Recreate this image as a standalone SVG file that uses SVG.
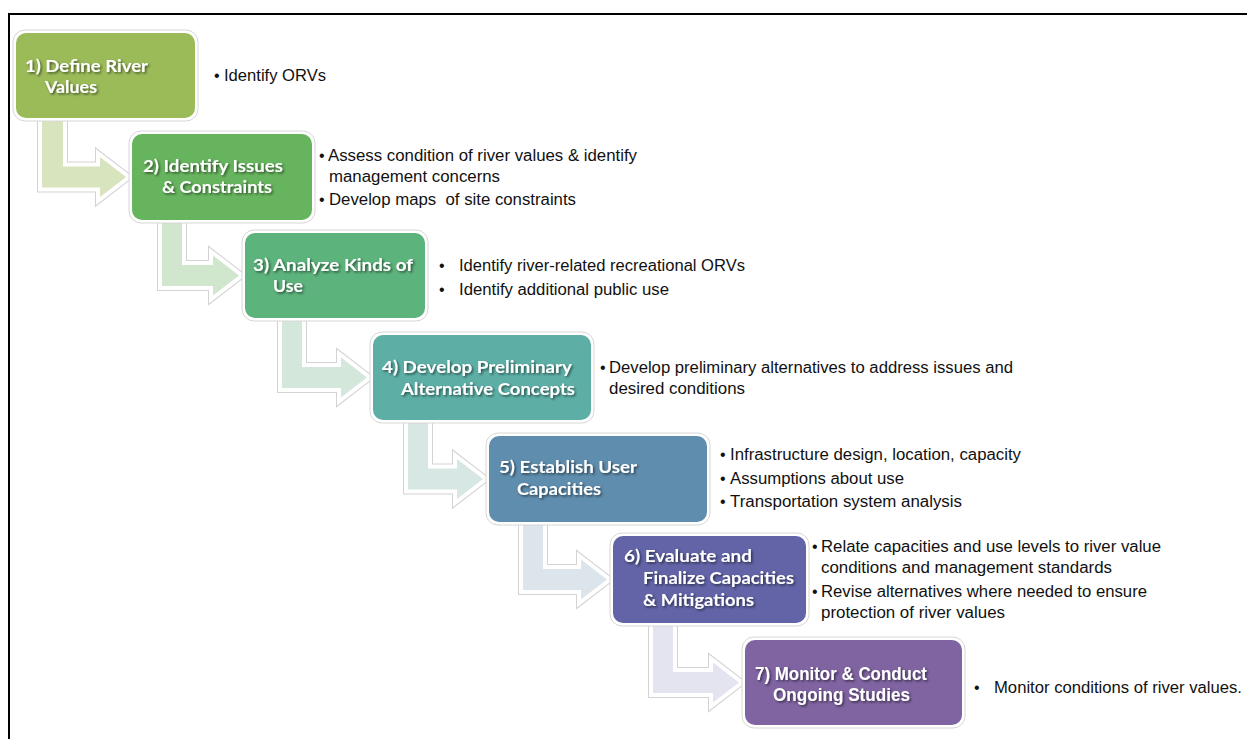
<svg xmlns="http://www.w3.org/2000/svg" xmlns:xlink="http://www.w3.org/1999/xlink" width="1247" height="739" viewBox="0 0 1247 739">
  <defs>
    <filter id="txtShadow" x="-10%" y="-30%" width="130%" height="170%">
      <feDropShadow dx="1.5" dy="1.5" stdDeviation="1" flood-color="#000" flood-opacity="0.55"/>
    </filter>
    <!-- bent arrow outlines: down from one step, then right into the next -->
    <path id="c1" d="M42 121 H63 V166.5 H100 V157 L126 177 L100 197 V187.5 H42 Z"/>
    <path id="c2" d="M162 223 H182 V265 H213 V255.5 L239 275.5 L213 295.5 V286 H162 Z"/>
    <path id="c3" d="M282 321 H302 V367 H341 V357.5 L367 377.5 L341 397.5 V388 H282 Z"/>
    <path id="c4" d="M408 423 H428 V468.5 H457 V459 L483 479 L457 499 V489.5 H408 Z"/>
    <path id="c5" d="M523 525 H543 V569 H581 V559.5 L607 579.5 L581 599.5 V590 H523 Z"/>
    <path id="c6" d="M653 626 H673 V672 H713 V662.5 L739 682.5 L713 702.5 V693 H653 Z"/>
    <style>
      .frame { fill: none; stroke: #000; stroke-width: 2; }
      .halo { fill: #fff; stroke: #d6d6d6; stroke-width: 1; }
      .lbl { font-family: Lato, "Open Sans", sans-serif; font-weight: bold; font-size: 17px; fill: #fff; filter: url(#txtShadow); }
      .lbl7 { font-family: "Liberation Sans", Arial, sans-serif; font-weight: bold; font-size: 19px; fill: #fff; filter: url(#txtShadow); }
      .note { font-family: "Liberation Sans", Arial, sans-serif; font-size: 16px; fill: #111; }
      .arrEdge { fill: none; stroke: #d3d3d3; stroke-width: 10; stroke-linejoin: miter; }
      .arrBody { stroke: #fff; stroke-width: 8; paint-order: stroke; stroke-linejoin: miter; }
    </style>
  </defs>

  <rect width="1247" height="739" fill="#fff"/>
  <path class="frame" d="M9 739 V14 H1247"/>

  <g id="connectors">
    <use xlink:href="#c1" class="arrEdge"/>
    <use xlink:href="#c1" class="arrBody" fill="#D7E4BD"/>
    <use xlink:href="#c2" class="arrEdge"/>
    <use xlink:href="#c2" class="arrBody" fill="#D0E7CD"/>
    <use xlink:href="#c3" class="arrEdge"/>
    <use xlink:href="#c3" class="arrBody" fill="#D3E8DA"/>
    <use xlink:href="#c4" class="arrEdge"/>
    <use xlink:href="#c4" class="arrBody" fill="#D6E7E4"/>
    <use xlink:href="#c5" class="arrEdge"/>
    <use xlink:href="#c5" class="arrBody" fill="#DCE5EB"/>
    <use xlink:href="#c6" class="arrEdge"/>
    <use xlink:href="#c6" class="arrBody" fill="#E3E4EF"/>
  </g>

  <!-- step 1 -->
  <g id="step1">
    <rect class="halo" x="13" y="30" width="185" height="91" rx="12"/>
    <rect x="16" y="33" width="179" height="85" rx="10" fill="#9BBB59"/>
    <text class="lbl" x="25" y="72" textLength="123" lengthAdjust="spacingAndGlyphs">1) Define River</text>
    <text class="lbl" x="45" y="93" textLength="52" lengthAdjust="spacingAndGlyphs">Values</text>
    <text class="note" x="214" y="81">•</text>
    <text class="note" x="224" y="81" textLength="102" lengthAdjust="spacingAndGlyphs">Identify ORVs</text>
  </g>

  <!-- step 2 -->
  <g id="step2">
    <rect class="halo" x="129" y="131" width="186" height="92" rx="12"/>
    <rect x="132" y="134" width="180" height="86" rx="10" fill="#67B45E"/>
    <text class="lbl" x="143" y="172" textLength="140" lengthAdjust="spacingAndGlyphs">2) Identify Issues</text>
    <text class="lbl" x="162" y="193" textLength="110" lengthAdjust="spacingAndGlyphs">&amp; Constraints</text>
    <text class="note" x="319" y="161">•</text>
    <text class="note" x="328" y="161" textLength="309" lengthAdjust="spacingAndGlyphs">Assess condition of river values &amp; identify</text>
    <text class="note" x="329" y="182" textLength="171" lengthAdjust="spacingAndGlyphs">management concerns</text>
    <text class="note" x="319" y="205">•</text>
    <text class="note" x="329" y="205" textLength="247" lengthAdjust="spacingAndGlyphs" xml:space="preserve">Develop maps  of site constraints</text>
  </g>

  <!-- step 3 -->
  <g id="step3">
    <rect class="halo" x="242" y="230" width="186" height="91" rx="12"/>
    <rect x="245" y="233" width="180" height="85" rx="10" fill="#5DB37C"/>
    <text class="lbl" x="253" y="271" textLength="160" lengthAdjust="spacingAndGlyphs">3) Analyze Kinds of</text>
    <text class="lbl" x="273" y="292" textLength="30" lengthAdjust="spacingAndGlyphs">Use</text>
    <text class="note" x="439" y="271">•</text>
    <text class="note" x="459" y="271" textLength="286" lengthAdjust="spacingAndGlyphs">Identify river-related recreational ORVs</text>
    <text class="note" x="439" y="295">•</text>
    <text class="note" x="459" y="295" textLength="210" lengthAdjust="spacingAndGlyphs">Identify additional public use</text>
  </g>

  <!-- step 4 -->
  <g id="step4">
    <rect class="halo" x="370" y="332" width="224" height="91" rx="12"/>
    <rect x="373" y="335" width="218" height="85" rx="10" fill="#5DAFA6"/>
    <text class="lbl" x="382" y="373" textLength="190" lengthAdjust="spacingAndGlyphs">4) Develop Preliminary</text>
    <text class="lbl" x="401" y="395" textLength="174" lengthAdjust="spacingAndGlyphs">Alternative Concepts</text>
    <text class="note" x="600" y="373">•</text>
    <text class="note" x="609" y="373" textLength="404" lengthAdjust="spacingAndGlyphs">Develop preliminary alternatives to address issues and</text>
    <text class="note" x="609" y="394" textLength="136" lengthAdjust="spacingAndGlyphs">desired conditions</text>
  </g>

  <!-- step 5 -->
  <g id="step5">
    <rect class="halo" x="486" y="433" width="224" height="92" rx="12"/>
    <rect x="489" y="436" width="218" height="86" rx="10" fill="#5F8DAD"/>
    <text class="lbl" x="499" y="473" textLength="138" lengthAdjust="spacingAndGlyphs">5) Establish User</text>
    <text class="lbl" x="517" y="495" textLength="84" lengthAdjust="spacingAndGlyphs">Capacities</text>
    <text class="note" x="720" y="460">•</text>
    <text class="note" x="730" y="460" textLength="291" lengthAdjust="spacingAndGlyphs">Infrastructure design, location, capacity</text>
    <text class="note" x="720" y="484">•</text>
    <text class="note" x="730" y="484" textLength="174" lengthAdjust="spacingAndGlyphs">Assumptions about use</text>
    <text class="note" x="720" y="507">•</text>
    <text class="note" x="730" y="507" textLength="232" lengthAdjust="spacingAndGlyphs">Transportation system analysis</text>
  </g>

  <!-- step 6 -->
  <g id="step6">
    <rect class="halo" x="610" y="533" width="199" height="93" rx="12"/>
    <rect x="613" y="536" width="193" height="87" rx="10" fill="#6264A7"/>
    <text class="lbl" x="624" y="562" textLength="128" lengthAdjust="spacingAndGlyphs">6) Evaluate and</text>
    <text class="lbl" x="643" y="584" textLength="151" lengthAdjust="spacingAndGlyphs">Finalize Capacities</text>
    <text class="lbl" x="643" y="606" textLength="111" lengthAdjust="spacingAndGlyphs">&amp; Mitigations</text>
    <text class="note" x="812" y="552">•</text>
    <text class="note" x="821" y="552" textLength="340" lengthAdjust="spacingAndGlyphs">Relate capacities and use levels to river value</text>
    <text class="note" x="821" y="573" textLength="291" lengthAdjust="spacingAndGlyphs">conditions and management standards</text>
    <text class="note" x="812" y="597">•</text>
    <text class="note" x="821" y="597" textLength="326" lengthAdjust="spacingAndGlyphs">Revise alternatives where needed to ensure</text>
    <text class="note" x="821" y="618" textLength="184" lengthAdjust="spacingAndGlyphs">protection of river values</text>
  </g>

  <!-- step 7 -->
  <g id="step7">
    <rect class="halo" x="742" y="637" width="223" height="91" rx="12"/>
    <rect x="745" y="640" width="217" height="85" rx="10" fill="#8064A2"/>
    <text class="lbl7" x="755" y="680" textLength="172" lengthAdjust="spacingAndGlyphs">7) Monitor &amp; Conduct</text>
    <text class="lbl7" x="773" y="701" textLength="137" lengthAdjust="spacingAndGlyphs">Ongoing Studies</text>
    <text class="note" x="974" y="693">•</text>
    <text class="note" x="994" y="693" textLength="248" lengthAdjust="spacingAndGlyphs">Monitor conditions of river values.</text>
  </g>
</svg>
